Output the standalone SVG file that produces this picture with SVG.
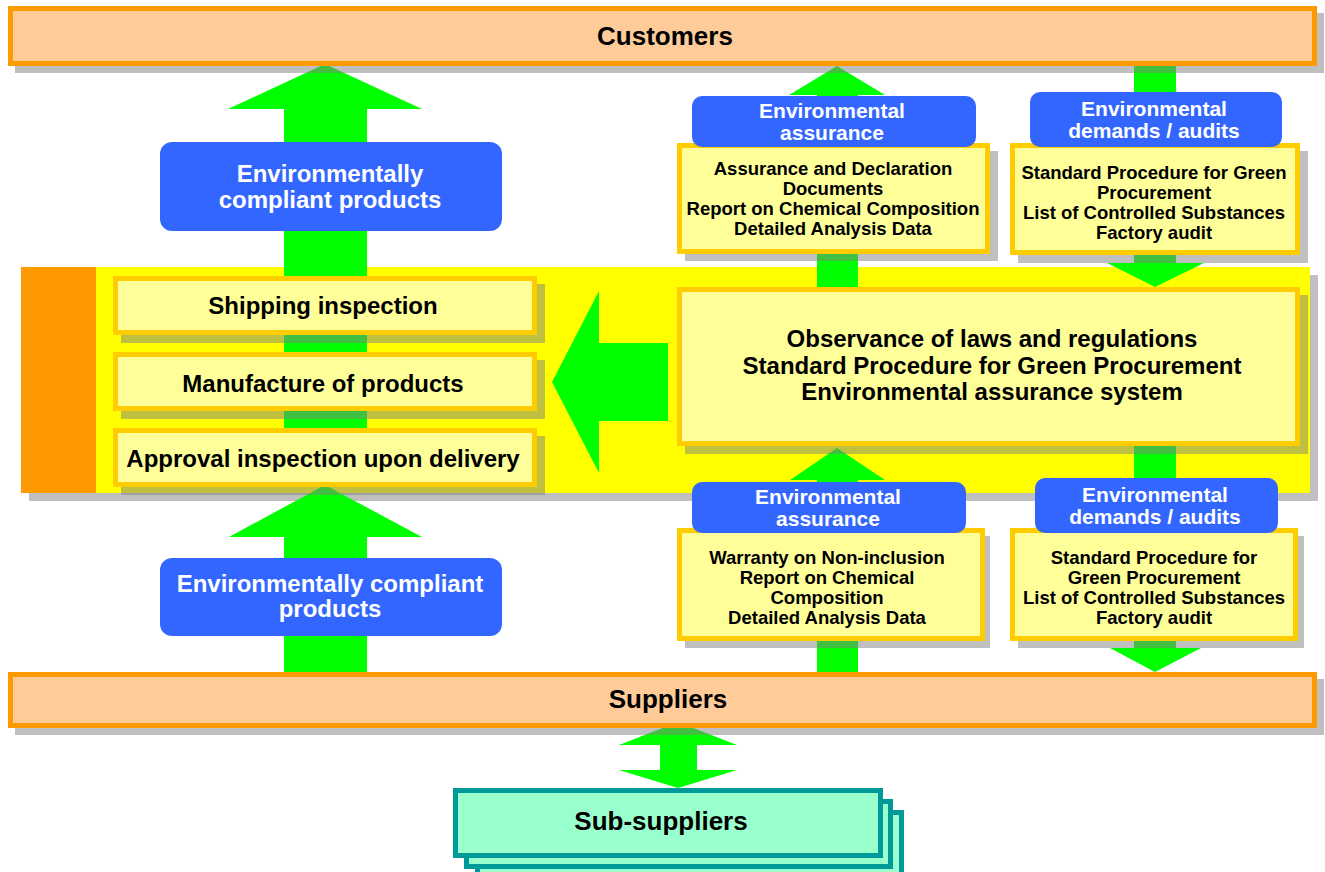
<svg xmlns="http://www.w3.org/2000/svg" width="1325" height="872" viewBox="0 0 1325 872">
<style>
text{font-family:"Liberation Sans",Arial,Helvetica,sans-serif;font-weight:bold;text-anchor:middle}
.sh{fill:#808080;opacity:0.5}
.bar{fill:#FFCC99;stroke:#FF9900;stroke-width:5}
.yb{fill:#FFFF99;stroke:#FFCC00;stroke-width:5}
.blue{fill:#3366FF}
.arr{fill:#00FF00}
.sub{fill:#99FFCC;stroke:#009999;stroke-width:5}
.t26{font-size:26px;fill:#000}
.t24{font-size:24px;fill:#000}
.w24{font-size:24px;fill:#fff}
.w21{font-size:21px;fill:#fff}
.t18{font-size:18.5px;fill:#000}
</style>

<g id="company">
<rect class="sh" x="29" y="275" width="1289" height="226"/>
<rect x="21" y="267" width="1289" height="226" fill="#FFFF00"/>
<rect x="21" y="267" width="75" height="226" fill="#FF9900"/>
</g>

<g id="connectors">
<polygon class="arr" points="325,64 422,109 367,109 367,440 284,440 284,109 228,109"/>
<polygon class="arr" points="325,485 422,537 367,537 367,672 284,672 284,537 229,537"/>
<polygon class="arr" points="552,382 599,291 599,343 668,343 668,421 599,421 599,473"/>
<polygon class="arr" points="837,66 885,95 858,95 858,290 817,290 817,95 789,95"/>
<polygon class="arr" points="1134,66 1176,66 1176,263 1204,263 1155,287 1107,263 1134,263"/>
<polygon class="arr" points="837,448 885,480 858,480 858,672 817,672 817,480 790,480"/>
<polygon class="arr" points="1134,445 1176,445 1176,648 1201,648 1155,672 1110,648 1134,648"/>
<polygon class="arr" points="678,722 737,745 697,745 697,770 737,770 678,788 619,770 660,770 660,745 619,745"/>
</g>

<g id="customers">
<rect class="sh" x="15" y="13" width="1309" height="60"/>
<rect class="bar" x="10.5" y="8.5" width="1304" height="55"/>
<text class="t26" x="665" y="45">Customers</text>
</g>

<g id="suppliers">
<rect class="sh" x="15" y="679" width="1309" height="56"/>
<rect class="bar" x="10.5" y="674.5" width="1304" height="51"/>
<text class="t26" x="668" y="708">Suppliers</text>
</g>

<g id="shipping">
<rect class="sh" x="121" y="284" width="424" height="59"/>
<rect class="yb" x="115.5" y="278.5" width="419" height="54"/>
<text class="t24" x="323" y="313.5">Shipping inspection</text>
</g>

<g id="manufacture">
<rect class="sh" x="121" y="360" width="424" height="59"/>
<rect class="yb" x="115.5" y="354.5" width="419" height="54"/>
<text class="t24" x="323" y="391.5">Manufacture of products</text>
</g>

<g id="approval">
<rect class="sh" x="121" y="436" width="424" height="59"/>
<rect class="yb" x="115.5" y="430.5" width="419" height="54"/>
<text class="t24" x="323" y="466.5">Approval inspection upon delivery</text>
</g>

<g id="system">
<rect class="sh" x="685" y="295" width="623" height="159"/>
<rect class="yb" x="679.5" y="289.5" width="618" height="154"/>
<text class="t24" x="992" y="347">Observance of laws and regulations</text>
<text class="t24" x="992" y="374">Standard Procedure for Green Procurement</text>
<text class="t24" x="992" y="400">Environmental assurance system</text>
</g>

<g id="docs-to-customers">
<rect class="sh" x="685" y="151" width="313" height="110"/>
<rect class="yb" x="679.5" y="145.5" width="308" height="106"/>
<text class="t18" x="833" y="175">Assurance and Declaration</text>
<text class="t18" x="833" y="195">Documents</text>
<text class="t18" x="833" y="215">Report on Chemical Composition</text>
<text class="t18" x="833" y="235">Detailed Analysis Data</text>
</g>

<g id="customer-demands">
<rect class="sh" x="1018" y="151" width="290" height="112"/>
<rect class="yb" x="1012.5" y="145.5" width="285" height="107"/>
<text class="t18" x="1154" y="179">Standard Procedure for Green</text>
<text class="t18" x="1154" y="199">Procurement</text>
<text class="t18" x="1154" y="219">List of Controlled Substances</text>
<text class="t18" x="1154" y="239">Factory audit</text>
</g>

<g id="docs-from-suppliers">
<rect class="sh" x="685" y="536" width="305" height="112"/>
<rect class="yb" x="679.5" y="530.5" width="303" height="108"/>
<text class="t18" x="827" y="564">Warranty on Non-inclusion</text>
<text class="t18" x="827" y="584">Report on Chemical</text>
<text class="t18" x="827" y="604">Composition</text>
<text class="t18" x="827" y="624">Detailed Analysis Data</text>
</g>

<g id="supplier-demands">
<rect class="sh" x="1018" y="536" width="286" height="112"/>
<rect class="yb" x="1012.5" y="530.5" width="283" height="108"/>
<text class="t18" x="1154" y="564">Standard Procedure for</text>
<text class="t18" x="1154" y="584">Green Procurement</text>
<text class="t18" x="1154" y="604">List of Controlled Substances</text>
<text class="t18" x="1154" y="624">Factory audit</text>
</g>

<g id="label-products-top">
<rect class="blue" x="160" y="142" width="342" height="89" rx="12"/>
<text class="w24" x="330" y="182">Environmentally</text>
<text class="w24" x="330" y="208">compliant products</text>
</g>

<g id="label-products-bottom">
<rect class="blue" x="160" y="558" width="342" height="78" rx="12"/>
<text class="w24" x="330" y="592">Environmentally compliant</text>
<text class="w24" x="330" y="617">products</text>
</g>

<g id="label-assurance-top">
<rect class="blue" x="692" y="96" width="284" height="51" rx="10"/>
<text class="w21" x="832" y="118">Environmental</text>
<text class="w21" x="832" y="140">assurance</text>
</g>

<g id="label-demands-top">
<rect class="blue" x="1030" y="92" width="252" height="55" rx="10"/>
<text class="w21" x="1154" y="116">Environmental</text>
<text class="w21" x="1154" y="138">demands / audits</text>
</g>

<g id="label-assurance-bottom">
<rect class="blue" x="692" y="482" width="274" height="51" rx="10"/>
<text class="w21" x="828" y="504">Environmental</text>
<text class="w21" x="828" y="526">assurance</text>
</g>

<g id="label-demands-bottom">
<rect class="blue" x="1035" y="478" width="243" height="55" rx="10"/>
<text class="w21" x="1155" y="502">Environmental</text>
<text class="w21" x="1155" y="524">demands / audits</text>
</g>

<g id="sub-suppliers">
<rect class="sub" x="477.5" y="812.5" width="424" height="65"/>
<rect class="sub" x="466.5" y="801.5" width="424" height="65"/>
<rect class="sub" x="455.5" y="790.5" width="425" height="65"/>
<text class="t26" x="661" y="830">Sub-suppliers</text>
</g>
</svg>
